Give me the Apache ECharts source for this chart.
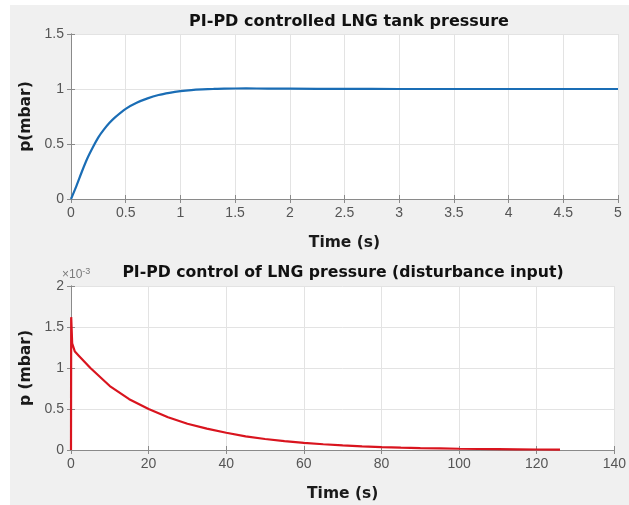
<!DOCTYPE html>
<html>
<head>
<meta charset="utf-8">
<script src="https://cdn.jsdelivr.net/npm/echarts@6/dist/echarts.min.js"></script>
<style>
  html, body { margin: 0; padding: 0; background: #ffffff; }
  #chart { width: 629px; height: 505px; }
</style>
</head>
<body>
<div id="chart"></div>
<script>
// Set-point response of the tank pressure (time in s, pressure in mbar)
const stepTime = [0, 0.05, 0.1, 0.15, 0.2, 0.25, 0.3, 0.35, 0.4, 0.5, 0.6, 0.7, 0.8, 0.9, 1.0, 1.1, 1.2, 1.3, 1.4, 1.6, 1.8, 2.0, 2.5, 3.0, 3.5, 4.0, 4.5, 5.0];
const stepPressure = [0, 0.12, 0.25, 0.37, 0.47, 0.56, 0.63, 0.69, 0.74, 0.82, 0.875, 0.915, 0.945, 0.965, 0.98, 0.99, 0.996, 1.0, 1.003, 1.005, 1.004, 1.003, 1.001, 1.0, 1.0, 1.0, 1.0, 1.0];

// Disturbance response (time in s, pressure in 1e-3 mbar)
const distTime = [0, 0.05, 0.3, 1, 2, 5, 10, 15, 20, 25, 30, 35, 40, 45, 50, 55, 60, 65, 70, 75, 80, 85, 90, 95, 100, 105, 110, 115, 120, 126];
const distPressure = [0, 1.62, 1.3, 1.2, 1.15, 1.0, 0.78, 0.62, 0.5, 0.4, 0.32, 0.26, 0.21, 0.167, 0.134, 0.108, 0.087, 0.07, 0.056, 0.045, 0.036, 0.029, 0.023, 0.019, 0.015, 0.012, 0.0097, 0.0078, 0.0062, 0.0048];

// Axis ranges and tick spacing
const topXRange = [0, 5, 0.5];
const topYRange = [0, 1.5, 0.5];
const botXRange = [0, 140, 20];
const botYRange = [0, 2, 0.5];

const labelFont = '"Liberation Sans", Arial, sans-serif';
const boldFont = '"DejaVu Sans", sans-serif';
const tickColor = '#555555';
const boxColor = '#8a8a8a';
const gridLineColor = '#e3e3e3';

function lbl(v) { return String(v); }

function valueAxis(range, opts) {
  return Object.assign({
    type: 'value', min: range[0], max: range[1], interval: range[2],
    axisLine: { show: true, lineStyle: { color: boxColor, width: 1 } },
    axisTick: { show: true, inside: true, length: 4, lineStyle: { color: boxColor } },
    splitLine: { show: true, lineStyle: { color: gridLineColor, width: 1 } },
    axisLabel: { color: tickColor, fontFamily: labelFont, fontSize: 14, formatter: lbl, margin: 7 },
    nameTextStyle: { color: '#1a1a1a', fontFamily: boldFont, fontSize: 15.5, fontWeight: 'bold' }
  }, opts);
}
function mirrorAxis(range, opts) {
  return Object.assign({
    type: 'value', min: range[0], max: range[1], interval: range[2],
    axisLine: { show: true, lineStyle: { color: boxColor, width: 1 } },
    axisTick: { show: true, inside: true, length: 4, lineStyle: { color: boxColor } },
    splitLine: { show: false },
    axisLabel: { show: false }
  }, opts);
}

const chart = echarts.init(document.getElementById('chart'), null, { renderer: 'canvas' });

chart.setOption({
  backgroundColor: '#f0f0f0',
  animation: false,
  graphic: [
    { type: 'rect', left: 0, top: 0, shape: { width: 10, height: 505 }, style: { fill: '#ffffff' }, z: -1 },
    { type: 'rect', left: 0, top: 0, shape: { width: 629, height: 5 }, style: { fill: '#ffffff' }, z: -1 },
    {
      type: 'text', left: 62, top: 267,
      style: {
        text: '{a|×10}{b|-3}',
        rich: {
          a: { fontFamily: labelFont, fontSize: 12, fill: '#7a7a7a' },
          b: { fontFamily: labelFont, fontSize: 9, fill: '#7a7a7a', verticalAlign: 'top', padding: [0, 0, 7, 0] }
        }
      }
    }
  ],
  title: [
    { text: 'PI-PD controlled LNG tank pressure', left: 344, top: 9, textAlign: 'center',
      textStyle: { fontFamily: boldFont, fontSize: 16, fontWeight: 'bold', color: '#111' } },
    { text: 'PI-PD control of LNG pressure (disturbance input)', left: 338, top: 260, textAlign: 'center',
      textStyle: { fontFamily: boldFont, fontSize: 15.7, fontWeight: 'bold', color: '#111' } }
  ],
  grid: [
    { left: 71, right: 11, top: 34, height: 165, show: true, backgroundColor: '#ffffff', borderWidth: 0 },
    { left: 71, right: 11, top: 286, height: 164, show: true, backgroundColor: '#ffffff', borderWidth: 0 }
  ],
  xAxis: [
    valueAxis(topXRange, { gridIndex: 0, position: 'bottom',
      name: 'Time (s)', nameLocation: 'middle', nameGap: 36 }),
    mirrorAxis(topXRange, { gridIndex: 0, position: 'top' }),
    valueAxis(botXRange, { gridIndex: 1, position: 'bottom',
      name: 'Time (s)', nameLocation: 'middle', nameGap: 36 }),
    mirrorAxis(botXRange, { gridIndex: 1, position: 'top' })
  ],
  yAxis: [
    valueAxis(topYRange, { gridIndex: 0, position: 'left',
      name: 'p(mbar)', nameLocation: 'middle', nameGap: 36 }),
    mirrorAxis(topYRange, { gridIndex: 0, position: 'right' }),
    valueAxis(botYRange, { gridIndex: 1, position: 'left',
      name: 'p (mbar)', nameLocation: 'middle', nameGap: 36 }),
    mirrorAxis(botYRange, { gridIndex: 1, position: 'right' })
  ],
  series: [
    {
      type: 'line', xAxisIndex: 0, yAxisIndex: 0, smooth: 0.3, symbol: 'none',
      lineStyle: { color: '#1a6db5', width: 2.2 },
      data: stepTime.map((t, i) => [t, stepPressure[i]])
    },
    {
      type: 'line', xAxisIndex: 2, yAxisIndex: 2, smooth: false, symbol: 'none',
      lineStyle: { color: '#d9141e', width: 2.2 },
      data: distTime.map((t, i) => [t, distPressure[i]])
    }
  ]
});
</script>
</body>
</html>
